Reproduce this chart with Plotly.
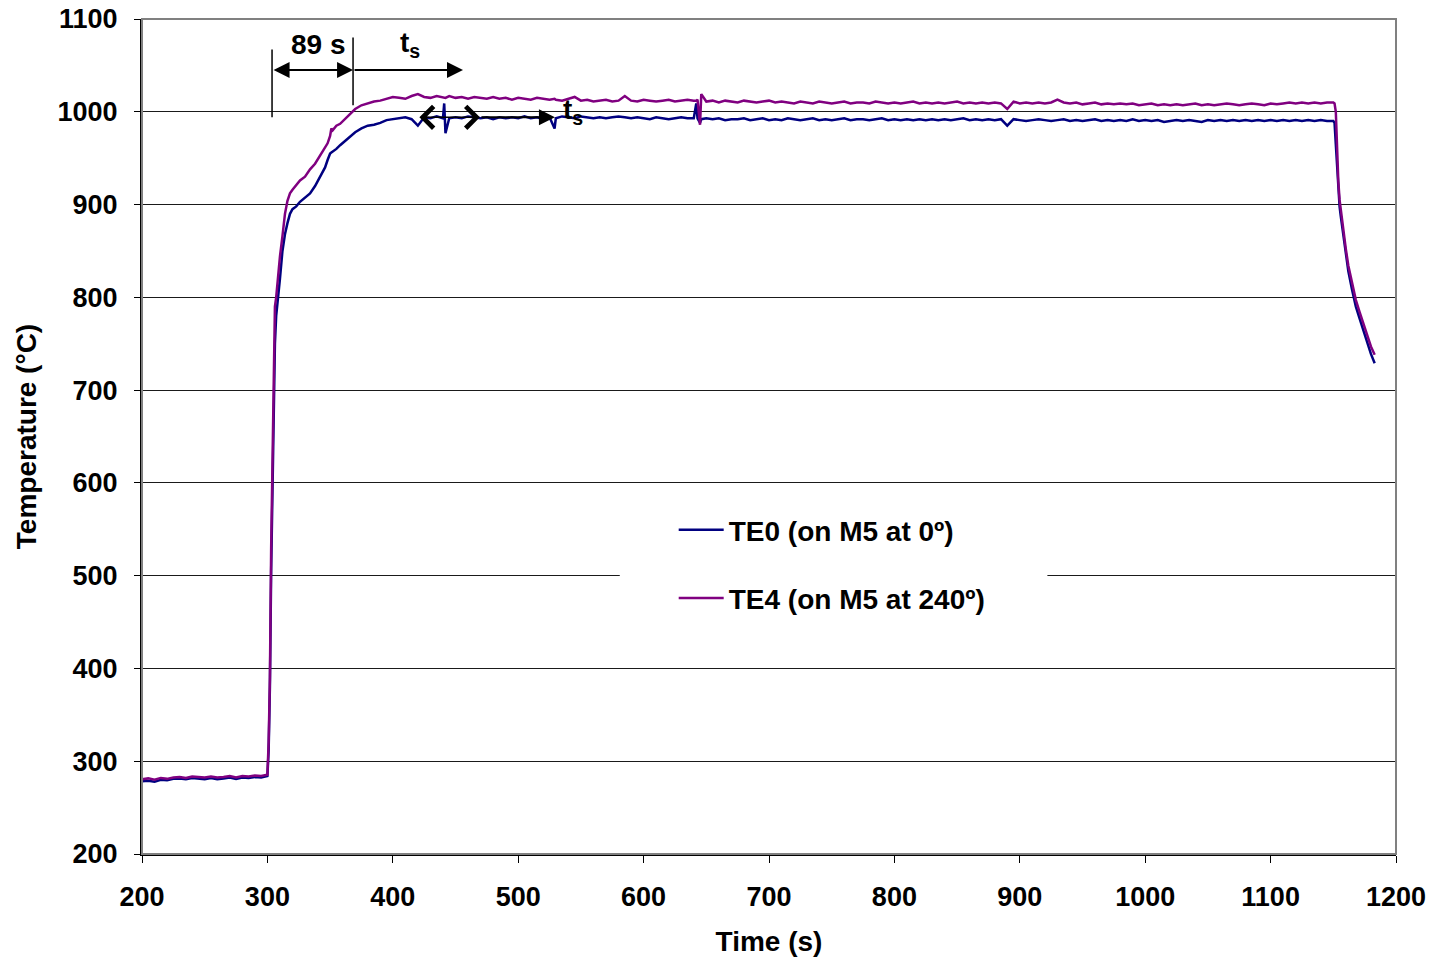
import plotly.graph_objects as go

# ---------------- data ----------------
time_base = [200, 205, 210, 215, 220, 225, 230, 235, 240, 245,
             250, 255, 260, 265, 270, 275, 280, 285, 290, 295, 300]
te0_base = [278.5, 279, 278, 280, 279.5, 281, 281.5, 280.5, 282, 281.5,
            280.5, 282, 280.5, 281.5, 282.5, 281, 282.5, 282, 283, 282.5, 284]
te4_base = [280.5, 281.5, 280, 282, 281, 282.5, 283, 282, 283.5, 283,
            282.5, 283.5, 282.5, 283, 284, 282.5, 284, 283.5, 284.5, 284, 285.5]

time_rise = [301, 302, 303, 304, 305, 306, 307, 308, 310, 312,
             314, 316, 318, 320, 323, 326, 330, 334, 338, 342,
             346, 348, 350, 351, 352, 355, 358, 362, 366, 370,
             375, 380, 385, 390, 395, 400]
te0_rise = [312, 380, 505, 600, 690, 750, 780, 792, 820, 850,
            868, 880, 890, 895, 898, 903, 907, 912, 920, 930,
            940, 948, 955, 956, 957, 960, 964, 969, 974, 978,
            982, 985, 986, 988, 991, 992]
te4_rise = [320, 390, 530, 630, 720, 790, 800, 815, 844, 866,
            890, 904, 912, 916, 921, 926, 930, 938, 944, 953,
            961, 966, 974, 982, 980, 985, 987, 992, 998, 1003,
            1007, 1009, 1011, 1012, 1014, 1016]

time_hold = [405, 410, 415, 420, 425, 430, 435, 440, 441, 442,
             445, 450, 455, 460, 465, 470, 475, 480, 485, 490,
             495, 500, 505, 510, 515, 520, 525, 529, 530, 535,
             540, 545, 550, 555, 560, 565, 570, 575, 580, 585,
             590, 595, 600, 605, 610, 615, 620, 625, 630, 635,
             640, 642, 643, 645, 646, 650, 655, 660, 665, 670,
             675, 680, 685, 690, 695, 700, 705, 710, 715, 720,
             725, 730, 735, 740, 745, 750, 755, 760, 765, 770,
             775, 780, 785, 790, 795, 800, 805, 810, 815, 820,
             825, 830, 835, 840, 845, 850, 855, 860, 865, 870,
             875, 880, 885, 890, 895, 900, 905, 910, 915, 920,
             925, 930, 935, 940, 945, 950, 955, 960, 965, 970,
             975, 980, 985, 990, 995, 1000, 1005, 1010, 1015, 1020,
             1025, 1030, 1035, 1040, 1045, 1050, 1055, 1060, 1065, 1070,
             1075, 1080, 1085, 1090, 1095, 1100, 1105, 1110, 1115, 1120,
             1125, 1130, 1135, 1140, 1145, 1150]
te0_hold = [993, 994, 992, 985, 994, 993, 995, 993, 1009, 977,
            993, 994, 993, 995, 994, 993, 994, 992, 994, 993,
            994, 993, 995, 993, 994, 992, 994, 982, 993, 995,
            994, 993, 995, 994, 993, 994, 993, 994, 995, 994,
            993, 994, 993, 992, 994, 993, 992, 993, 994, 993,
            993, 1009, 993, 988, 992, 993, 992, 993, 991, 992,
            992, 993, 991, 992, 993, 991, 992, 991, 993, 992,
            991, 992, 993, 991, 992, 991, 992, 993, 991, 992,
            992, 991, 992, 993, 991, 992, 991, 992, 991, 992,
            991, 992, 991, 992, 991, 992, 993, 991, 992, 991,
            992, 991, 992, 985, 992, 991, 990, 991, 992, 991,
            990, 991, 992, 990, 991, 990, 991, 992, 990, 991,
            990, 991, 990, 992, 990, 991, 990, 991, 989, 990,
            991, 990, 991, 990, 989, 991, 990, 991, 990, 991,
            990, 991, 990, 991, 990, 991, 990, 991, 990, 991,
            990, 991, 990, 991, 990, 990]
te4_hold = [1015, 1014, 1017, 1019, 1016, 1015, 1017, 1016, 1016, 1015,
            1017, 1015, 1016, 1014, 1016, 1015, 1014, 1016, 1014, 1015,
            1013, 1015, 1014, 1013, 1015, 1014, 1013, 1014, 1013, 1012,
            1014, 1016, 1012, 1013, 1011, 1012, 1013, 1011, 1012, 1017,
            1012, 1011, 1013, 1012, 1011, 1012, 1013, 1011, 1012, 1013,
            1012, 1012, 1013, 986, 1019, 1011, 1012, 1010, 1012, 1011,
            1010, 1012, 1011, 1010, 1011, 1012, 1010, 1011, 1010, 1009,
            1011, 1010, 1009, 1011, 1010, 1009, 1010, 1011, 1009, 1010,
            1010, 1009, 1011, 1010, 1009, 1010, 1009, 1010, 1011, 1009,
            1010, 1009, 1010, 1009, 1010, 1011, 1009, 1010, 1009, 1010,
            1009, 1010, 1009, 1003, 1011, 1009, 1010, 1009, 1010, 1009,
            1010, 1013, 1010, 1009, 1010, 1008, 1009, 1010, 1008, 1009,
            1008, 1009, 1008, 1009, 1007, 1008, 1009, 1007, 1008, 1007,
            1008, 1007, 1008, 1009, 1007, 1008, 1007, 1008, 1009, 1008,
            1007, 1008, 1009, 1008, 1007, 1009, 1008, 1009, 1010, 1009,
            1010, 1009, 1010, 1009, 1010, 1010]

time_cool = [1151, 1152, 1153, 1154, 1155, 1156, 1158, 1160, 1162, 1165,
             1168, 1171, 1174, 1177, 1180, 1183]
te0_cool = [988, 965, 940, 915, 898, 887, 867, 846, 828, 808,
            790, 777, 764, 751, 739, 729]
te4_cool = [1009, 1000, 955, 925, 905, 893, 873, 852, 834, 815,
            797, 784, 771, 759, 747, 738]

time_s = time_base + time_rise + time_hold + time_cool
te0 = te0_base + te0_rise + te0_hold + te0_cool
te4 = te4_base + te4_rise + te4_hold + te4_cool

series_names = ["TE0 (on M5 at 0º)", "TE4 (on M5 at 240º)"]
x_ticks = [200, 300, 400, 500, 600, 700, 800, 900, 1000, 1100, 1200]
y_ticks = [200, 300, 400, 500, 600, 700, 800, 900, 1000, 1100]

# ---------------- figure ----------------
FONT = "Liberation Sans, Arial, sans-serif"
BLUE = "#000080"
PURPLE = "#800080"

fig = go.Figure()
fig.add_trace(go.Scatter(x=time_s, y=te0, mode="lines", name=series_names[0],
                         line=dict(color=BLUE, width=2.5), legendgroup="a"))
fig.add_trace(go.Scatter(x=time_s, y=te4, mode="lines", name=series_names[1],
                         line=dict(color=PURPLE, width=2.5), legendgroup="b"))

tick_font = dict(family=FONT, size=27, color="black", weight="bold")
big_font = dict(family=FONT, size=28, color="black", weight="bold")

fig.update_layout(
    width=1435, height=962,
    margin=dict(l=142, r=39, t=19, b=108, autoexpand=False),
    paper_bgcolor="white", plot_bgcolor="white",
    font=dict(family=FONT, size=28, color="black", weight="bold"),
    showlegend=True,
    legend=dict(x=0.424, y=0.418, xanchor="left", yanchor="top",
                bgcolor="rgba(0,0,0,0)", font=big_font,
                traceorder="grouped", tracegroupgap=29, itemwidth=45),
)

fig.update_xaxes(
    range=[200, 1200], tickvals=x_ticks, ticks="outside", ticklen=7,
    tickcolor="black", tickwidth=1, showgrid=False, zeroline=False,
    showline=True, linecolor="black", linewidth=2, automargin=False,
    tickfont=tick_font, ticklabelstandoff=11, ticklabeloverflow="allow",
    title=dict(text="Time (s)", font=big_font, standoff=20),
)
fig.update_yaxes(
    range=[200, 1100], tickvals=y_ticks, ticks="outside", ticklen=6,
    tickcolor="black", tickwidth=1, showgrid=True, gridcolor="#1a1a1a",
    gridwidth=1, zeroline=False, automargin=False,
    showline=True, linecolor="black", linewidth=2,
    tickfont=tick_font, ticklabelstandoff=11, ticklabeloverflow="allow",
    title=dict(text="Temperature (°C)", font=big_font, standoff=13),
)

# plot border (grey) and white legend box
fig.add_shape(type="rect", xref="paper", yref="paper", x0=0, x1=1, y0=0, y1=1,
              line=dict(color="#808080", width=2), layer="above")
fig.add_shape(type="rect", xref="x", yref="y", x0=581, x1=922, y0=410, y1=590,
              fillcolor="white", line=dict(width=0), layer="between")

# annotation marks
ann_line = dict(color="black", width=1.5)
fig.add_shape(type="line", x0=303.7, x1=303.7, y0=994, y1=1067, line=ann_line)
fig.add_shape(type="line", x0=368.3, x1=368.3, y0=1007, y1=1080, line=ann_line)

def arrow(x0, x1, y, head, size, width=2, both=False):
    fig.add_annotation(x=x1, y=y, ax=x0, ay=y, xref="x", yref="y",
                       axref="x", ayref="y", text="", showarrow=True,
                       arrowhead=head, startarrowhead=head,
                       arrowside="end+start" if both else "end",
                       arrowsize=size, startarrowsize=size,
                       arrowwidth=width, arrowcolor="black")

arrow(303.7, 368.3, 1045, 2, 1.6, both=True)
arrow(368.3, 456, 1045, 2, 1.6)
arrow(420, 469.5, 994, 4, 2.8, width=1.5, both=True)
arrow(469.5, 529.3, 994, 2, 1.6)

fig.add_annotation(x=340.4, y=1073, text="89 s", showarrow=False, font=big_font)
fig.add_annotation(x=414, y=1073, text="t<sub>s</sub>", showarrow=False, font=big_font)
fig.add_annotation(x=544, y=1000, text="t<sub>s</sub>", showarrow=False, font=big_font)

# remove the browser's default 8px body margin so the figure sits at (0, 0)
fig.write_html("out.html", config={"displayModeBar": False},
               post_script="document.body.style.margin='0';")
